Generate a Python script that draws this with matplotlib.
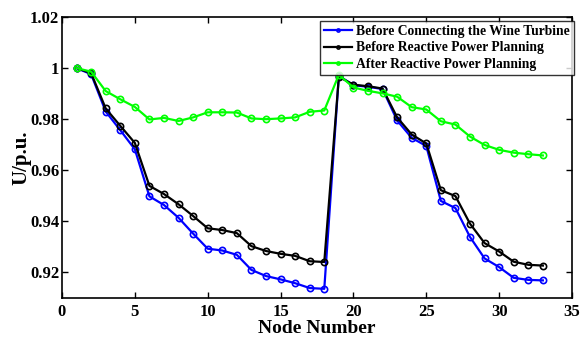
import numpy as np
import matplotlib
matplotlib.use("Agg")
import matplotlib.pyplot as plt

nodes = np.arange(1, 34)

before_wind = [1.0, 0.9976, 0.983, 0.9757, 0.9682, 0.9498, 0.9464, 0.9414, 0.9352, 0.9293,
               0.9286, 0.9269, 0.9210, 0.9186, 0.9173, 0.9158, 0.9139, 0.9136, 0.997, 0.9933,
               0.9927, 0.9918, 0.9795, 0.9727, 0.9695, 0.948, 0.9452, 0.9339, 0.9255, 0.9221,
               0.9179, 0.9171, 0.9169]
before_rpp = [1.0, 0.998, 0.9842, 0.9774, 0.9707, 0.9539, 0.9507, 0.9467, 0.9421, 0.9373,
              0.9366, 0.9354, 0.9303, 0.9284, 0.9273, 0.9265, 0.9244, 0.9241, 0.9966, 0.9935,
              0.9929, 0.992, 0.9807, 0.974, 0.9705, 0.9522, 0.9499, 0.9391, 0.9315, 0.9282,
              0.9242, 0.923, 0.9227]
after_rpp = [1.0, 0.9986, 0.991, 0.9878, 0.9848, 0.9799, 0.9805, 0.9793, 0.9807, 0.9827,
             0.9827, 0.9826, 0.9803, 0.980, 0.9803, 0.9807, 0.9829, 0.9834, 0.9974, 0.9924,
             0.9911, 0.9901, 0.9888, 0.9847, 0.9838, 0.9792, 0.9779, 0.9732, 0.9699, 0.968,
             0.9669, 0.9663, 0.9658]

labels = ["Before Connecting the Wine Turbine",
          "Before Reactive Power Planning",
          "After Reactive Power Planning"]
colors = ["#0000ff", "#000000", "#00ff00"]

plt.rcParams["font.family"] = "Liberation Serif"
plt.rcParams["font.weight"] = "bold"

fig = plt.figure(figsize=(5.81, 3.38), dpi=100)
ax = fig.add_axes([0.1067, 0.1183, 0.8778, 0.8314])

for series, lab, col in zip([before_wind, before_rpp, after_rpp], labels, colors):
    ax.plot(nodes, series, color=col, linewidth=1.6, marker="o", markersize=4.5,
            markerfacecolor="none", markeredgewidth=1.2, label=lab)

ax.set_xlim(0, 35)
ax.set_ylim(0.91, 1.02)
ax.set_xticks([0, 5, 10, 15, 20, 25, 30, 35])
ax.set_yticks([0.92, 0.94, 0.96, 0.98, 1.0, 1.02])
ax.set_yticklabels(["0.92", "0.94", "0.96", "0.98", "1", "1.02"])
ax.tick_params(direction="in", top=True, right=True, labelsize=12, length=4, width=1, pad=2)
ax.tick_params(axis="x", pad=4)
for lbl in ax.get_xticklabels() + ax.get_yticklabels():
    lbl.set_fontweight("bold")
for sp in ax.spines.values():
    sp.set_linewidth(1.2)

ax.set_xlabel("Node Number", fontsize=14, fontweight="bold", labelpad=0)
ax.set_ylabel("U/p.u.", fontsize=15, fontweight="bold", labelpad=-1)

leg = ax.legend(loc="upper right", bbox_to_anchor=(1.003, 0.986), fontsize=9.8,
                frameon=True, fancybox=False, edgecolor="black", handlelength=2.0,
                handletextpad=0.3, borderpad=0.3, labelspacing=0.25, borderaxespad=0.0,
                markerscale=0.5)
leg.get_frame().set_linewidth(1.0)
for t in leg.get_texts():
    t.set_fontweight("bold")

fig.savefig("out.png", dpi=100)
